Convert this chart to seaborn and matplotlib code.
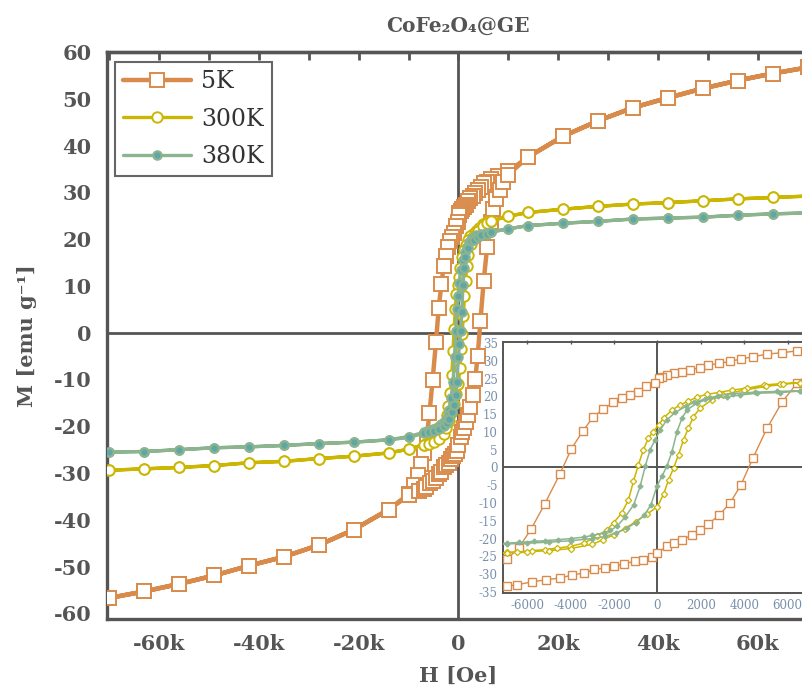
import matplotlib
matplotlib.use("Agg")
import matplotlib.pyplot as plt
import numpy as np
import pandas as pd
import seaborn as sns
from matplotlib.ticker import MultipleLocator, FuncFormatter

# ---------------- data (H in Oe, M in emu/g) ----------------
# 5 K loop
H5_desc = [70000, 63000, 56000, 49000, 42000, 35000, 28000, 21000, 14000, 10000, 8000,
           6430, 5740, 5050, 4430, 3850, 3350, 2860, 2350, 1940, 1510,
           1120, 740, 430, 200, 50, -120, -510, -890, -1280, -1660,
           -2050, -2510, -2970, -3430, -3970, -4510, -5200, -5820, -6410, -6950,
           -7500, -8200, -9000, -10000, -14000, -21000, -28000, -35000, -42000, -49000,
           -56000, -63000, -70000]
M5_desc = [56.7, 55.4, 53.9, 52.2, 50.2, 48.1, 45.3, 42.0, 37.6, 34.5, 33.6,
           32.8, 32.3, 31.9, 31.2, 30.5, 29.9, 29.3, 28.8, 28.1, 27.4,
           26.9, 26.5, 26.0, 25.5, 25.1, 23.7, 22.8, 21.3, 20.4, 19.5,
           18.3, 16.4, 14.2, 10.4, 5.3, -1.9, -10.2, -17.2, -22.7, -25.8,
           -28.0, -30.5, -32.5, -34.5, -37.8, -42.1, -45.4, -47.9, -49.8, -51.9,
           -53.7, -55.3, -56.7]
H5_asc = [-70000, -63000, -56000, -49000, -42000, -35000, -28000, -21000, -14000, -10000, -8000,
          -6950, -6490, -5800, -5140, -4520, -3950, -3410, -2920, -2420, -2000,
          -1540, -1030, -650, -260, -30, 430, 740, 1120, 1580, 1970,
          2350, 2860, 3350, 3850, 4400, 5050, 5740, 6430, 7000, 7600,
          8300, 9000, 10000, 14000, 21000, 28000, 35000, 42000, 49000, 56000,
          63000, 70000]
M5_asc = [-56.7, -55.3, -53.7, -51.9, -49.8, -47.9, -45.4, -42.1, -37.8, -34.8, -33.9,
          -33.4, -33.0, -32.2, -31.6, -31.1, -30.3, -29.7, -28.7, -28.3, -27.8,
          -27.1, -26.4, -25.9, -25.3, -24.1, -22.2, -21.3, -20.3, -19.1, -17.5,
          -15.9, -13.3, -10.0, -4.9, 2.6, 11.0, 18.3, 23.7, 26.5, 28.6,
          30.6, 32.3, 33.8, 37.6, 42.0, 45.3, 48.1, 50.2, 52.2, 53.9,
          55.4, 56.7]

# 300 K loop
H300_desc = [70000, 63000, 56000, 49000, 42000, 35000, 28000, 21000, 14000, 10000,
             6590, 5670, 4900, 4130, 3440, 2820, 2280, 1820, 1430, 1050,
             670, 280, 50, -190, -420, -650, -880, -1110, -1340, -1650,
             -2030, -2340, -2800, -3410, -4030, -4650, -5180, -5800, -6490, -6950,
             -10000, -14000, -21000, -28000, -35000, -42000, -49000, -56000, -63000, -70000]
M300_desc = [29.2, 28.9, 28.6, 28.2, 27.8, 27.5, 27.0, 26.4, 25.7, 24.9,
             23.9, 23.6, 23.2, 22.3, 21.8, 21.1, 20.6, 19.8, 18.7, 17.6,
             16.2, 13.9, 12.0, 10.1, 8.3, 5.0, 0.8, -3.9, -9.1, -12.8,
             -15.6, -17.5, -19.4, -21.3, -22.2, -22.7, -23.1, -23.4, -23.8, -23.9,
             -24.9, -25.7, -26.4, -26.9, -27.5, -27.8, -28.4, -28.8, -29.1, -29.4]
H300_asc = [-70000, -63000, -56000, -49000, -42000, -35000, -28000, -21000, -14000, -10000,
            -6950, -6000, -5000, -4000, -3000, -2500, -2000, -1500, -1000, -500,
            0, 280, 510, 740, 970, 1200, 1430, 1660, 1970, 2500,
            3000, 4000, 5000, 5800, 6590, 10000, 14000, 21000, 28000, 35000,
            42000, 49000, 56000, 63000, 70000]
M300_asc = [-29.4, -29.1, -28.8, -28.4, -27.8, -27.5, -26.9, -26.4, -25.7, -24.9,
            -24.0, -23.7, -23.4, -22.8, -21.6, -20.3, -18.9, -17.2, -15.2, -13.2,
            -11.0, -7.5, -3.5, -0.2, 3.6, 7.8, 11.1, 14.3, 16.7, 19.0,
            20.4, 21.8, 22.8, 23.4, 23.9, 24.9, 25.7, 26.4, 27.0, 27.5,
            27.8, 28.2, 28.6, 28.9, 29.2]

# 380 K loop
H380_desc = [70000, 63000, 56000, 49000, 42000, 35000, 28000, 21000, 14000, 10000,
             6590, 5500, 4500, 3500, 2800, 2200, 1700, 1300, 820, 430,
             130, -110, -340, -570, -800, -1100, -1500, -1880, -2180, -2490,
             -3000, -3410, -4000, -4570, -5200, -5720, -6400, -6950, -10000, -14000,
             -21000, -28000, -35000, -42000, -49000, -56000, -63000, -70000]
M380_desc = [25.6, 25.4, 25.1, 24.7, 24.5, 24.3, 23.8, 23.4, 22.9, 22.2,
             21.6, 21.4, 21.2, 20.8, 20.2, 19.3, 18.3, 17.2, 15.5, 13.4,
             10.6, 7.8, 5.0, 0.3, -5.3, -10.5, -14.0, -16.6, -17.7, -18.4,
             -19.1, -19.6, -20.0, -20.3, -20.6, -20.8, -21.1, -21.3, -22.2, -22.9,
             -23.4, -23.7, -24.1, -24.4, -24.6, -25.0, -25.4, -25.5]
H380_asc = [-70000, -63000, -56000, -49000, -42000, -35000, -28000, -21000, -14000, -10000,
            -6950, -6000, -5000, -4000, -3000, -2400, -1900, -1400, -1000, -600,
            -300, -30, 200, 430, 670, 900, 1130, 1360, 1820, 2430,
            3200, 3820, 4590, 5670, 6590, 10000, 14000, 21000, 28000, 35000,
            42000, 49000, 56000, 63000, 70000]
M380_asc = [-25.5, -25.4, -25.0, -24.6, -24.4, -24.1, -23.7, -23.4, -22.9, -22.4,
            -21.5, -21.3, -21.0, -20.6, -20.0, -19.4, -18.4, -17.0, -15.5, -13.3,
            -10.5, -5.3, -2.5, 0.3, 4.5, 10.1, 13.9, 16.2, 18.1, 19.5,
            19.9, 20.4, 20.9, 21.1, 21.5, 22.2, 22.9, 23.4, 23.8, 24.3,
            24.5, 24.7, 25.1, 25.4, 25.6]

labels = ["5K", "300K", "380K"]
colors = ["#D98B4B", "#CBB602", "#8BB48F"]
title_text = "CoFe\u2082O\u2084@GE"
xlabel_text = "H [Oe]"
ylabel_text = "M [emu g\u207b\u00b9]"
main_xticks = [-60000, -40000, -20000, 0, 20000, 40000, 60000]
main_yticks = list(range(-60, 61, 10))
inset_xticks = [-6000, -4000, -2000, 0, 2000, 4000, 6000]
inset_yticks = list(range(-35, 36, 5))

# ---------------- style ----------------
sns.set_theme(style="white")
plt.rcParams["font.family"] = ["DejaVu Serif", "DejaVu Sans"]
plt.rcParams["axes.unicode_minus"] = False
GRAY = "#555555"

W, Hh = 803, 688
fig = plt.figure(figsize=(W / 100, Hh / 100), dpi=100)

# main axes extends slightly past the right edge (right frame cropped)
ax = fig.add_axes([107 / W, 1 - 619 / Hh, (810 - 107) / W, (619 - 52) / Hh])

loops = [
    (H5_desc, M5_desc, H5_asc, M5_asc),
    (H300_desc, M300_desc, H300_asc, M300_asc),
    (H380_desc, M380_desc, H380_asc, M380_asc),
]
frames = []
for lab, (hd, md, ha, ma) in zip(labels, loops):
    frames.append(pd.DataFrame({"H": hd + ha, "M": md + ma, "T": lab}))

main_styles = [
    dict(marker="s", markersize=10, markerfacecolor="white", markeredgewidth=1.4, linewidth=3.2),
    dict(marker="o", markersize=7.5, markerfacecolor="white", markeredgewidth=1.4, linewidth=2.4),
    dict(marker="o", markersize=6, markerfacecolor="#5FA6A8", markeredgewidth=1.6, linewidth=2.4),
]
inset_styles = [
    dict(marker="s", markersize=5.5, markerfacecolor="white", markeredgewidth=1.0, linewidth=1.0),
    dict(marker="D", markersize=3.2, markerfacecolor="white", markeredgewidth=0.9, linewidth=1.1),
    dict(marker="P", markersize=3.5, markerfacecolor="#8BB48F", markeredgewidth=0.6, linewidth=1.1),
]

ax.axhline(0, color=GRAY, lw=2.0, zorder=1)
ax.axvline(0, color=GRAY, lw=2.0, zorder=1)
for df, col, st in zip(frames, colors, main_styles):
    sns.lineplot(data=df, x="H", y="M", sort=False, estimator=None, ax=ax,
                 color=col, markeredgecolor=col, label=df["T"].iloc[0], zorder=3, **st)

ax.set_xlim(-70500, 70500)
ax.set_ylim(-61.2, 60)
ax.xaxis.set_major_locator(plt.FixedLocator(main_xticks))
ax.xaxis.set_minor_locator(MultipleLocator(10000))
ax.yaxis.set_major_locator(plt.FixedLocator(main_yticks))
ax.yaxis.set_minor_locator(MultipleLocator(5))
ax.xaxis.set_major_formatter(FuncFormatter(lambda v, p: "0" if v == 0 else f"{int(round(v / 1000))}k"))
ax.yaxis.set_major_formatter(FuncFormatter(lambda v, p: f"{int(round(v))}"))
ax.tick_params(which="both", direction="out", colors=GRAY, width=2.0,
               labelsize=15, labelcolor=GRAY, pad=4)
ax.tick_params(which="major", length=7)
ax.tick_params(which="minor", length=4.5)
for lbl in ax.get_xticklabels() + ax.get_yticklabels():
    lbl.set_fontweight("bold")
for sp in ax.spines.values():
    sp.set_color(GRAY)
    sp.set_linewidth(2.4)

# inward ticks on top / right frames
sec_top = ax.secondary_xaxis("top")
sec_top.xaxis.set_major_locator(MultipleLocator(10000))
sec_top.tick_params(direction="in", length=6, width=2.0, colors=GRAY, labeltop=False)
sec_top.spines["top"].set_color(GRAY)
sec_top.spines["top"].set_linewidth(2.4)
sec_right = ax.secondary_yaxis("right")
sec_right.yaxis.set_major_locator(MultipleLocator(10))
sec_right.tick_params(direction="in", length=6, width=2.0, colors=GRAY, labelright=False)

ax.set_xlabel(xlabel_text, fontsize=15, fontweight="bold", color=GRAY, labelpad=8)
ax.set_ylabel(ylabel_text, fontsize=15, fontweight="bold", color=GRAY, labelpad=12)
fig.text(458 / W, 1 - 26 / Hh, title_text, ha="center", va="center",
         fontsize=14.5, fontweight="bold", color=GRAY)

handles, labs = ax.get_legend_handles_labels()
leg = ax.legend(handles, labs, loc="upper left", bbox_to_anchor=(0.011, 0.982),
                fontsize=17, frameon=True, fancybox=False, framealpha=1,
                edgecolor="#666666", handlelength=2.9, handletextpad=0.4,
                borderpad=0.35, labelspacing=0.6, borderaxespad=0)
leg.get_frame().set_linewidth(1.5)
for t in leg.get_texts():
    t.set_color("#333333")

# ---------------- inset ----------------
axi = fig.add_axes([503 / W, 1 - 593.3 / Hh, (812 - 503) / W, (593.3 - 341.7) / Hh])
axi.set_facecolor("white")
axi.axhline(0, color=GRAY, lw=1.4, zorder=1)
axi.axvline(0, color=GRAY, lw=1.4, zorder=1)
for df, col, st in zip(frames, colors, inset_styles):
    sns.lineplot(data=df, x="H", y="M", sort=False, estimator=None, ax=axi,
                 color=col, markeredgecolor=col, legend=False, zorder=3, **st)
axi.set_xlim(-7130, 7130)
axi.set_ylim(-35.4, 35.4)
axi.xaxis.set_major_locator(plt.FixedLocator(inset_xticks))
axi.xaxis.set_minor_locator(MultipleLocator(1000))
axi.yaxis.set_major_locator(plt.FixedLocator(inset_yticks))
axi.yaxis.set_minor_locator(MultipleLocator(2.5))
axi.yaxis.set_major_formatter(FuncFormatter(lambda v, p: f"{int(round(v))}"))
axi.xaxis.set_major_formatter(FuncFormatter(lambda v, p: f"{int(round(v))}"))
axi.tick_params(which="both", direction="out", colors=GRAY, width=1.0,
                labelsize=8.5, labelcolor="#7890AC", pad=2)
axi.tick_params(which="major", length=3.5)
axi.tick_params(which="minor", length=2)
axi.tick_params(top=True, which="major", direction="inout")
axi.set_xlabel("")
axi.set_ylabel("")
for sp in axi.spines.values():
    sp.set_color(GRAY)
    sp.set_linewidth(1.4)

fig.savefig("out.png", dpi=100)
